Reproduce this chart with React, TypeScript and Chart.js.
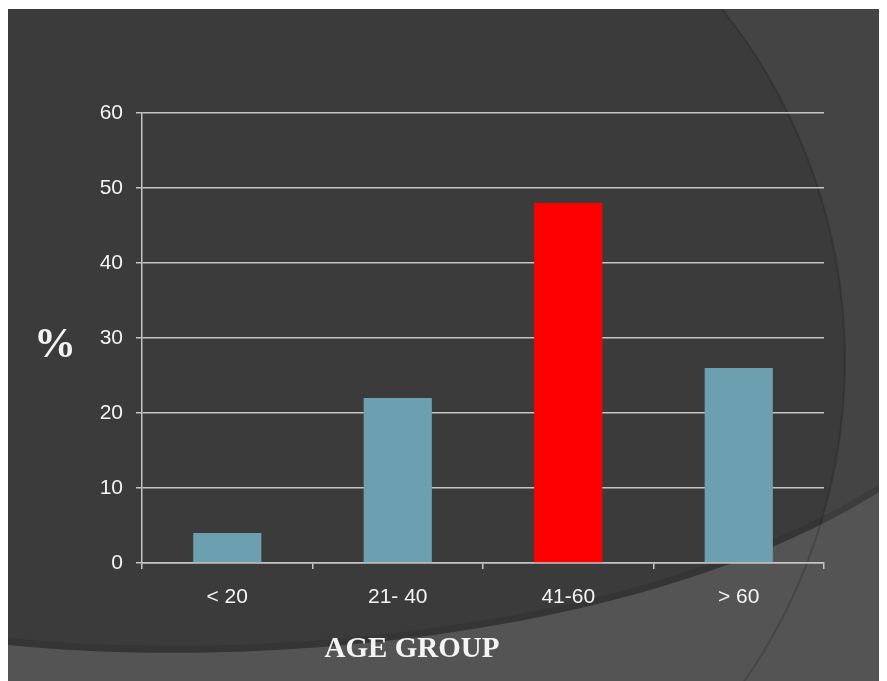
import React, { useEffect, useRef } from "react";
import { Chart, registerables } from "chart.js";

Chart.register(...registerables);

const categories = ["< 20", "21- 40", "41-60", "> 60"];
const values = [4, 22, 48, 26];
const barColors = ["#6c9fb0", "#6c9fb0", "#ff0000", "#6c9fb0"];
const yTicks = [0, 10, 20, 30, 40, 50, 60];
const yTitle = "%";
const xTitle = "AGE GROUP";

const OX = 8;
const OY = 9;

const bgPlugin = {
  id: "slideBg",
  beforeDraw(chart: any) {
    const ctx = chart.ctx as CanvasRenderingContext2D;
    const W = chart.width;
    const H = chart.height;
    const p = (x: number, y: number) => [x - OX, y - OY];
    ctx.save();
    ctx.fillStyle = "#3b3b3b";
    ctx.fillRect(0, 0, W, H);
    const [cx, cy] = p(283, 360);
    const R = 562;
    ctx.beginPath();
    ctx.rect(0, 0, W, H);
    ctx.arc(cx, cy, R, 0, Math.PI * 2, true);
    ctx.fillStyle = "#444444";
    ctx.fill("evenodd");
    const [a0x, a0y] = p(8, 645);
    const [b1x, b1y] = p(250, 670);
    const [b2x, b2y] = p(650, 640);
    const [a3x, a3y] = p(887, 487);
    ctx.beginPath();
    ctx.moveTo(a0x, a0y - 3);
    ctx.bezierCurveTo(b1x, b1y - 3, b2x, b2y - 3, a3x, a3y - 3);
    ctx.strokeStyle = "rgba(0,0,0,0.10)";
    ctx.lineWidth = 8;
    ctx.stroke();
    ctx.beginPath();
    ctx.moveTo(a0x, a0y);
    ctx.bezierCurveTo(b1x, b1y, b2x, b2y, a3x, a3y);
    ctx.lineTo(W, H);
    ctx.lineTo(0, H);
    ctx.closePath();
    ctx.fillStyle = "#545454";
    ctx.fill();
    ctx.beginPath();
    ctx.arc(cx, cy, R, 0, Math.PI * 2);
    ctx.strokeStyle = "rgba(0,0,0,0.16)";
    ctx.lineWidth = 2;
    ctx.stroke();
    ctx.restore();
  },
  afterDraw(chart: any) {
    const ctx = chart.ctx as CanvasRenderingContext2D;
    ctx.save();
    ctx.fillStyle = "#f4f4f4";
    ctx.textAlign = "center";
    ctx.textBaseline = "alphabetic";
    ctx.font = "bold 42px 'Liberation Serif', serif";
    ctx.fillText(yTitle, 55 - OX, 357 - OY);
    ctx.font = "bold 29px 'Liberation Serif', serif";
    ctx.fillText(xTitle, 412 - OX, 657 - OY);
    ctx.restore();
  },
};

export default function App() {
  const ref = useRef<HTMLCanvasElement | null>(null);
  useEffect(() => {
    document.body.style.overflow = "hidden";
    const canvas = ref.current;
    if (!canvas) return;
    const chart = new Chart(canvas, {
      type: "bar",
      data: {
        labels: categories,
        datasets: [
          {
            data: values,
            backgroundColor: barColors,
            borderWidth: 0,
            categoryPercentage: 1,
            barPercentage: 0.4,
          },
        ],
      },
      options: {
        animation: false,
        responsive: false,
        maintainAspectRatio: false,
        devicePixelRatio: 1,
        layout: { padding: { left: 0, top: 104, right: 63, bottom: 68 } },
        plugins: {
          legend: { display: false },
          tooltip: { enabled: false },
          title: { display: false },
        },
        scales: {
          x: {
            offset: true,
            grid: {
              display: true,
              drawOnChartArea: false,
              drawTicks: true,
              tickLength: 6,
              color: "#c4c4c4",
              lineWidth: 1.5,
              offset: true,
            },
            border: { display: true, color: "#c4c4c4", width: 1.5 },
            ticks: {
              color: "#f4f4f4",
              font: { family: "'Liberation Sans', Arial, sans-serif", size: 21 },
              padding: 16,
              maxRotation: 0,
            },
            afterFit: (s: any) => {
              s.height = 50;
            },
          },
          y: {
            min: 0,
            max: 60,
            afterBuildTicks: (s: any) => {
              s.ticks = yTicks.map((v) => ({ value: v }));
            },
            grid: {
              color: "#c4c4c4",
              lineWidth: 1.5,
              drawTicks: true,
              tickLength: 6,
            },
            border: { display: true, color: "#c4c4c4", width: 1.5 },
            ticks: {
              color: "#f4f4f4",
              font: { family: "'Liberation Sans', Arial, sans-serif", size: 21 },
              padding: 13,
            },
            afterFit: (s: any) => {
              s.width = 134;
            },
          },
        },
      },
      plugins: [bgPlugin],
    });
    return () => chart.destroy();
  }, []);
  return (
    <div style={{ width: 879, height: 673 }}>
      <canvas
        ref={ref}
        width={879}
        height={672}
        style={{ display: "block", width: 879, height: 672, marginTop: 1 }}
      />
    </div>
  );
}
